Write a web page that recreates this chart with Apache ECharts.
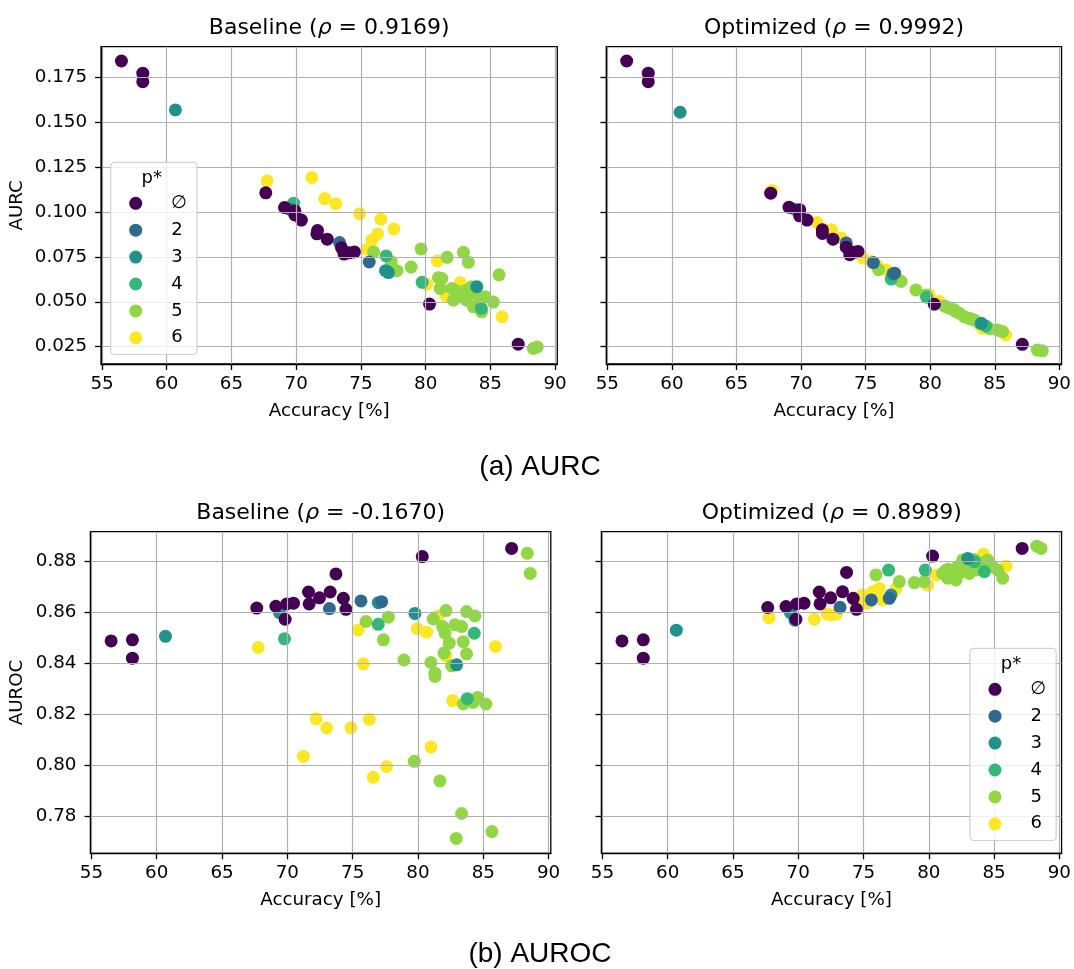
<!DOCTYPE html>
<html>
<head>
<meta charset="utf-8">
<script src="https://cdn.jsdelivr.net/npm/echarts@6/dist/echarts.min.js"></script>
<style>
  html, body { margin: 0; padding: 0; background: #fff; }
  #chart { width: 1074px; height: 969px; }
</style>
</head>
<body>
<div id="chart"></div>
<script>
// p* groups and their viridis colours
const groups = ['∅', '2', '3', '4', '5', '6'];
const colors = ['#440154', '#31688e', '#21918c', '#35b779', '#90d743', '#fde725'];

const accTicks = [55, 60, 65, 70, 75, 80, 85, 90];
const aurcTicks = [0.025, 0.05, 0.075, 0.1, 0.125, 0.15, 0.175];
const aurocTicks = [0.78, 0.8, 0.82, 0.84, 0.86, 0.88];

const panelTitles = ['Baseline ({i|ρ} = 0.9169)', 'Optimized ({i|ρ} = 0.9992)',
                     'Baseline ({i|ρ} = -0.1670)', 'Optimized ({i|ρ} = 0.8989)'];
const captions = ['(a) AURC', '(b) AUROC'];

// [accuracy %, metric, p* group index]
const aurcBaseline = [
  [56.5,0.1839,0],[58.15,0.1771,0],[58.15,0.1724,0],[67.65,0.1106,0],[69.1,0.1024,0],[69.9,0.1005,0],
  [69.9,0.0983,0],[70.4,0.0954,0],[71.65,0.0896,0],[71.6,0.0878,0],[72.4,0.0848,0],[73.5,0.0800,0],
  [73.7,0.0765,0],[74.1,0.0772,0],[74.5,0.0777,0],[80.3,0.0487,0],[87.15,0.0264,0],
  [69.5,0.1015,1],[73.35,0.0829,1],[75.64,0.0721,1],
  [60.67,0.1567,2],[76.9,0.0673,2],[77.13,0.0662,2],[83.95,0.0584,2],
  [69.8,0.1048,3],[76.95,0.0755,3],[79.73,0.0608,3],[84.3,0.0463,3],
  [75.98,0.0777,4],[77.34,0.0723,4],[77.78,0.0673,4],[78.88,0.0693,4],[79.65,0.0794,4],[81.66,0.0747,4],
  [82.92,0.0775,4],[83.3,0.0719,4],[85.67,0.0650,4],[80.99,0.0634,4],[81.25,0.0630,4],[81.12,0.0574,4],
  [82.02,0.0574,4],[82.15,0.0509,4],[82.66,0.0528,4],[83.17,0.0509,4],[83.56,0.0584,4],[83.69,0.0472,4],
  [83.95,0.0546,4],[84.2,0.0519,4],[84.33,0.0444,4],[84.59,0.0528,4],[85.23,0.0498,4],[83.17,0.0565,4],
  [82.4,0.0560,4],[88.32,0.0240,4],[88.62,0.0249,4],
  [67.75,0.1172,5],[71.2,0.1191,5],[72.2,0.1074,5],[73.05,0.1045,5],[74.9,0.0989,5],[76.54,0.0959,5],
  [77.55,0.0905,5],[76.29,0.0877,5],[75.85,0.0844,5],[75.46,0.0792,5],[80.91,0.0727,5],[80.09,0.0598,5],
  [81.58,0.0533,5],[82.66,0.0606,5],[85.9,0.0416,5]
];

const aurcOptimized = [
  [56.5,0.1839,0],[58.17,0.1771,0],[58.17,0.1724,0],[67.65,0.1104,0],[69.07,0.1026,0],[69.9,0.1011,0],
  [69.89,0.0978,0],[70.46,0.0954,0],[71.65,0.0900,0],[71.65,0.0880,0],[72.47,0.0848,0],[73.5,0.0803,0],
  [73.77,0.0762,0],[74.1,0.0775,0],[74.41,0.0780,0],[80.32,0.0486,0],[87.13,0.0263,0],
  [73.5,0.0827,1],[75.6,0.0718,1],[77.24,0.0659,1],
  [60.64,0.1554,2],[69.5,0.1015,2],[77.1,0.0655,2],[83.95,0.0380,2],
  [76.98,0.0626,3],[79.73,0.0525,3],[84.3,0.0365,3],
  [76.0,0.0678,4],[77.75,0.0613,4],[78.9,0.0566,4],[79.68,0.0538,4],[81.09,0.0477,4],[81.48,0.0464,4],
  [81.86,0.0455,4],[82.25,0.0436,4],[82.63,0.0417,4],[83.02,0.0408,4],[83.4,0.0399,4],[83.79,0.0380,4],
  [85.2,0.0343,4],[85.6,0.0334,4],[88.29,0.0231,4],[88.68,0.0227,4],[82.0,0.0445,4],[83.2,0.0403,4],
  [81.3,0.0470,4],[84.6,0.0350,4],
  [67.75,0.1118,5],[71.23,0.0941,5],[72.21,0.0896,5],[73.12,0.0855,5],[74.79,0.0743,5],[75.44,0.0724,5],
  [76.6,0.0678,5],[77.62,0.0622,5],[79.94,0.0538,5],[80.7,0.0501,5],[84.05,0.0352,5],[85.85,0.0315,5],
  [72.35,0.0901,5],[75.9,0.0700,5]
];

const aurocBaseline = [
  [56.51,0.8489,0],[58.14,0.8493,0],[58.14,0.8421,0],[67.66,0.8618,0],[69.12,0.8625,0],[69.83,0.8574,0],
  [69.96,0.8634,0],[70.47,0.8637,0],[71.62,0.8681,0],[71.67,0.8634,0],[72.46,0.8658,0],[73.28,0.8681,0],
  [73.72,0.8752,0],[74.29,0.8656,0],[74.49,0.8613,0],[80.33,0.8820,0],[87.17,0.8852,0],
  [73.22,0.8616,1],[75.64,0.8646,1],[77.22,0.8643,1],
  [60.67,0.8507,2],[69.4,0.8600,2],[76.96,0.8639,2],[79.77,0.8597,2],[82.96,0.8395,2],
  [69.78,0.8497,3],[76.96,0.8554,3],[84.31,0.8519,3],[83.78,0.8262,3],
  [76.02,0.8565,4],[77.73,0.8582,4],[77.35,0.8493,4],[78.93,0.8414,4],[81.17,0.8575,4],[82.14,0.8608,4],
  [81.89,0.8545,4],[82.07,0.8519,4],[82.4,0.8480,4],[81.99,0.8441,4],[80.99,0.8404,4],[81.3,0.8362,4],
  [81.3,0.8349,4],[82.58,0.8391,4],[82.83,0.8552,4],[83.34,0.8545,4],[83.72,0.8604,4],[84.36,0.8587,4],
  [83.47,0.8486,4],[83.72,0.8438,4],[83.47,0.8241,4],[84.23,0.8247,4],[84.57,0.8267,4],[85.2,0.8241,4],
  [79.72,0.8016,4],[81.68,0.7939,4],[83.34,0.7811,4],[82.93,0.7713,4],[85.66,0.7740,4],[88.37,0.8833,4],
  [88.6,0.8754,4],
  [67.77,0.8463,5],[72.2,0.8183,5],[73.02,0.8147,5],[71.23,0.8035,5],[75.43,0.8532,5],[75.82,0.8399,5],
  [79.95,0.8537,5],[80.66,0.8523,5],[81.56,0.8587,5],[82.14,0.8430,5],[85.94,0.8467,5],[82.65,0.8254,5],
  [74.87,0.8148,5],[76.28,0.8181,5],[81.0,0.8072,5],[77.6,0.7996,5],[76.58,0.7953,5]
];

const aurocOptimized = [
  [56.5,0.8489,0],[58.13,0.8493,0],[58.13,0.8421,0],[67.66,0.8620,0],[69.06,0.8624,0],[69.88,0.8634,0],
  [70.44,0.8637,0],[69.82,0.8574,0],[71.61,0.8681,0],[71.67,0.8634,0],[72.48,0.8658,0],[73.39,0.8682,0],
  [73.7,0.8758,0],[74.21,0.8656,0],[74.46,0.8613,0],[80.29,0.8822,0],[87.15,0.8852,0],
  [73.2,0.8621,1],[76.97,0.8656,1],[75.6,0.8650,1],
  [60.66,0.8531,2],[69.4,0.8600,2],[77.1,0.8669,2],[82.98,0.8813,2],[69.75,0.8570,2],
  [76.92,0.8767,3],[79.73,0.8767,3],[84.26,0.8761,3],[83.5,0.8800,3],
  [75.95,0.8748,4],[77.74,0.8722,4],[78.89,0.8718,4],[79.65,0.8722,4],[81.06,0.8754,4],[81.45,0.8735,4],
  [81.32,0.8767,4],[81.83,0.8748,4],[82.21,0.8780,4],[82.08,0.8728,4],[82.6,0.8807,4],[82.85,0.8774,4],
  [83.1,0.8754,4],[83.49,0.8809,4],[83.62,0.8767,4],[84.0,0.8794,4],[84.51,0.8807,4],[84.9,0.8780,4],
  [85.28,0.8767,4],[85.66,0.8735,4],[88.27,0.8861,4],[88.6,0.8852,4],[81.5,0.8770,4],[82.5,0.8760,4],
  [83.8,0.8780,4],
  [67.76,0.8580,5],[71.23,0.8574,5],[72.22,0.8595,5],[72.93,0.8595,5],[72.5,0.8591,5],[74.92,0.8669,5],
  [75.3,0.8650,5],[75.69,0.8682,5],[76.2,0.8695,5],[75.3,0.8637,5],[76.46,0.8650,5],[77.48,0.8693,5],
  [79.91,0.8708,5],[80.6,0.8748,5],[84.18,0.8830,5],[85.92,0.8783,5],[74.5,0.8640,5]
];

const panels = [aurcBaseline, aurcOptimized, aurocBaseline, aurocOptimized];

const chart = echarts.init(document.getElementById('chart'), null, { renderer: 'canvas' });

const font = 'DejaVu Sans';
const tickSize = 18.3;
const grids = [
  { left: 101.1, top: 46.7, width: 456.2, height: 317.3 },
  { left: 606.4, top: 46.7, width: 455.4, height: 317.3 },
  { left: 90.5, top: 531.7, width: 460.3, height: 321.6 },
  { left: 601.5, top: 531.7, width: 460.6, height: 321.6 }
].map(g => Object.assign(g, { show: true, borderColor: '#000', borderWidth: 1.3, backgroundColor: 'transparent' }));

const axisLine = { show: true, lineStyle: { color: '#000', width: 1.3 } };
const splitLine = { show: true, lineStyle: { color: '#b0b0b0', width: 1.2 } };

const xAxes = panels.map((p, i) => ({
  gridIndex: i, type: 'value', min: 54.93, max: 90.17, minInterval: 5, maxInterval: 5,
  axisLine: axisLine,
  axisTick: { show: true, length: 6, lineStyle: { color: '#000', width: 1.3 }, customValues: accTicks },
  axisLabel: { customValues: accTicks, fontSize: tickSize, color: '#000', margin: 11, fontFamily: font,
               formatter: v => String(v) },
  splitLine: splitLine,
  name: 'Accuracy [%]', nameLocation: 'middle', nameGap: 38,
  nameTextStyle: { fontSize: 18.3, color: '#000', fontFamily: font },
  z: 5
}));

const yAxes = panels.map((p, i) => {
  const top = i < 2;
  const ticks = top ? aurcTicks : aurocTicks;
  return {
    gridIndex: i, type: 'value',
    min: top ? 0.01538 : 0.76547, max: top ? 0.19185 : 0.89178,
    minInterval: top ? 0.025 : 0.02, maxInterval: top ? 0.025 : 0.02,
    axisLine: axisLine,
    axisTick: { show: true, length: 6, lineStyle: { color: '#000', width: 1.3 }, customValues: ticks },
    axisLabel: { show: i % 2 === 0, customValues: ticks, fontSize: tickSize, color: '#000', margin: 14,
                 fontFamily: font, formatter: v => v.toFixed(top ? 3 : 2) },
    splitLine: splitLine,
    name: i % 2 === 0 ? (top ? 'AURC' : 'AUROC') : '',
    nameLocation: 'middle', nameGap: top ? 75 : 64,
    nameTextStyle: { fontSize: 18.3, color: '#000', fontFamily: font },
    z: 5
  };
});

const series = [];
panels.forEach((panel, i) => {
  [5, 4, 3, 2, 1, 0].forEach(g => {
    series.push({
      type: 'scatter', name: groups[g], xAxisIndex: i, yAxisIndex: i,
      data: panel.filter(d => d[2] === g).map(d => [d[0], d[1]]),
      symbolSize: 13,
      itemStyle: { color: colors[g], opacity: 1 },
      emphasis: { disabled: true },
      z: 2
    });
  });
});

const titleCenters = grids.map(g => g.left + g.width / 2);
const titles = panelTitles.map((t, i) => ({
  text: t, left: titleCenters[i], top: i < 2 ? 17.5 : 502.5, textAlign: 'center', padding: 0,
  textStyle: { fontSize: 22, fontWeight: 'normal', color: '#000', fontFamily: font,
               rich: { i: { fontSize: 22, fontStyle: 'italic', color: '#000', fontFamily: font } } }
}));
captions.forEach((c, i) => titles.push({
  text: c, left: 540, top: i === 0 ? 453 : 940, textAlign: 'center', padding: 0,
  textStyle: { fontSize: 28, fontWeight: 'normal', color: '#000', fontFamily: 'Liberation Sans' }
}));

function makeLegend(left, top) {
  return {
    data: groups, orient: 'vertical', left: left, top: top, icon: 'circle',
    itemWidth: 13, itemHeight: 13, itemGap: 8.9, selectedMode: false,
    padding: [32, 10, 7.7, 18.5],
    backgroundColor: 'rgba(255,255,255,0.8)', borderColor: '#d0d0d0', borderWidth: 1.2, borderRadius: 4,
    textStyle: { fontSize: 18, color: '#000', fontFamily: font, padding: [0, 0, 0, 24] },
    z: 10
  };
}

const legendBoxes = [[110.7, 162.3], [970, 648.3]];

chart.setOption({
  animation: false,
  textStyle: { fontFamily: font },
  title: titles,
  grid: grids,
  xAxis: xAxes,
  yAxis: yAxes,
  legend: legendBoxes.map(b => makeLegend(b[0], b[1])),
  graphic: legendBoxes.map(b => ({
    type: 'text', x: b[0] + 41, y: b[1] + 16, z: 20,
    style: { text: 'p*', fontSize: 18, fontFamily: font, fill: '#000', align: 'center', verticalAlign: 'middle' }
  })),
  series: series
});
</script>
</body>
</html>
